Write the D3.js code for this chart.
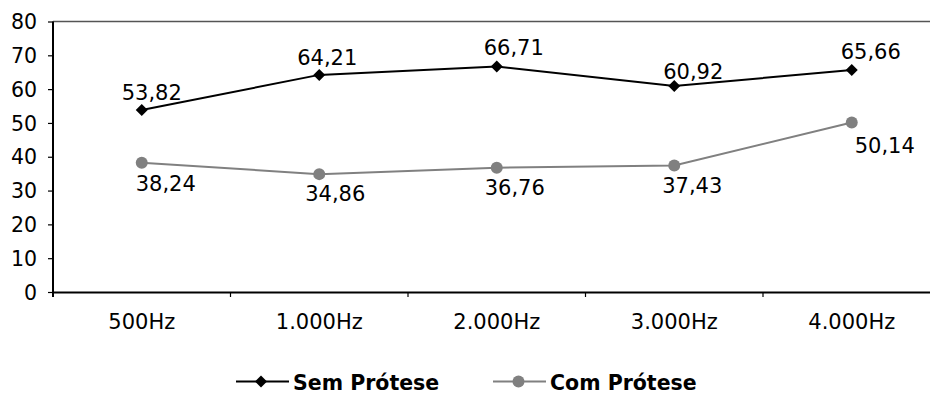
<!DOCTYPE html>
<html>
<head>
<meta charset="utf-8">
<script src="https://cdn.jsdelivr.net/npm/d3@7"></script>
<style>
  html, body { margin: 0; padding: 0; background: #fff; }
  svg { display: block; font-family: "DejaVu Sans", Verdana, sans-serif; }
</style>
</head>
<body>
<svg id="chart" width="930" height="396"></svg>
<script>
// Frequencies on the category axis
const categories = ["500Hz", "1.000Hz", "2.000Hz", "3.000Hz", "4.000Hz"];
// Series values
const semProtese = [53.82, 64.21, 66.71, 60.92, 65.66];
const comProtese = [38.24, 34.86, 36.76, 37.43, 50.14];
// Value axis ticks
const yTicks = [0, 10, 20, 30, 40, 50, 60, 70, 80];
const seriesNames = ["Sem Prótese", "Com Prótese"];

const fmt = v => v.toFixed(2).replace(".", ",");

const svg = d3.select("#chart");
const plot = { left: 53, top: 21.5, bottom: 292, band: 177.5 };

const x = d3.scaleBand()
  .domain(categories)
  .range([plot.left, plot.left + plot.band * categories.length])
  .padding(0);
const cx = c => x(c) + x.bandwidth() / 2;

const y = d3.scaleLinear().domain([0, 80]).range([plot.bottom, plot.top]);

// top border of the plot area
svg.append("line")
  .attr("x1", plot.left).attr("x2", x.range()[1])
  .attr("y1", plot.top).attr("y2", plot.top)
  .attr("stroke", "#555").attr("stroke-width", 1.5);

// value axis
const yAxis = svg.append("g")
  .attr("transform", `translate(${plot.left},0)`)
  .call(d3.axisLeft(y).tickValues(yTicks).tickSize(5).tickSizeOuter(0).tickPadding(11));
yAxis.select(".domain").attr("stroke", "#000").attr("stroke-width", 2)
  .attr("d", `M0,${plot.top}V${plot.bottom + 5}`);
yAxis.selectAll(".tick line").attr("stroke", "#000").attr("stroke-width", 1.2);
yAxis.selectAll(".tick text").attr("font-size", 20.5).attr("fill", "#000")
  .attr("font-family", "DejaVu Sans, Verdana, sans-serif").attr("dy", "0.35em");

// category axis
const xAxis = svg.append("g")
  .attr("transform", `translate(0,${plot.bottom})`)
  .call(d3.axisBottom(x).tickSize(0).tickSizeOuter(0).tickPadding(22.5));
xAxis.select(".domain").attr("stroke", "#000").attr("stroke-width", 2);
xAxis.selectAll(".tick text").attr("font-size", 21).attr("fill", "#000")
  .attr("font-family", "DejaVu Sans, Verdana, sans-serif");
// tick marks between categories
svg.append("g").selectAll("line")
  .data(categories)
  .join("line")
  .attr("x1", d => x(d)).attr("x2", d => x(d))
  .attr("y1", plot.bottom).attr("y2", plot.bottom + 5)
  .attr("stroke", "#000").attr("stroke-width", 1.2);

const line = d3.line().x((d, i) => cx(categories[i])).y(d => y(d));

// Com Prótese series (grey, circles)
svg.append("path").datum(comProtese)
  .attr("d", line).attr("fill", "none")
  .attr("stroke", "#808080").attr("stroke-width", 2);
svg.append("g").selectAll("circle")
  .data(comProtese)
  .join("circle")
  .attr("cx", (d, i) => cx(categories[i])).attr("cy", d => y(d))
  .attr("r", 6).attr("fill", "#808080");

// Sem Prótese series (black, diamonds)
svg.append("path").datum(semProtese)
  .attr("d", line).attr("fill", "none")
  .attr("stroke", "#000").attr("stroke-width", 2);
const diamond = s => `M0,${-s}L${s},0L0,${s}L${-s},0Z`;
svg.append("g").selectAll("path")
  .data(semProtese)
  .join("path")
  .attr("transform", (d, i) => `translate(${cx(categories[i])},${y(d)})`)
  .attr("d", diamond(6)).attr("fill", "#000");

// value labels, nudged off their markers
const semNudge = [[10, -10], [8, -10], [17, -11], [19, -7], [19, -11]];
const comNudge = [[24, 28], [16, 27], [18, 27], [18, 28], [33, 31]];
svg.append("g").selectAll("text")
  .data(semProtese)
  .join("text")
  .attr("x", (d, i) => cx(categories[i]) + semNudge[i][0])
  .attr("y", (d, i) => y(d) + semNudge[i][1])
  .attr("text-anchor", "middle").attr("font-size", 21).attr("fill", "#000")
  .text(fmt);
svg.append("g").selectAll("text")
  .data(comProtese)
  .join("text")
  .attr("x", (d, i) => cx(categories[i]) + comNudge[i][0])
  .attr("y", (d, i) => y(d) + comNudge[i][1])
  .attr("text-anchor", "middle").attr("font-size", 21).attr("fill", "#000")
  .text(fmt);

// legend
const legendItems = [
  { name: seriesNames[0], color: "#000", marker: "diamond", x0: 236 },
  { name: seriesNames[1], color: "#808080", marker: "circle", x0: 493 }
];
const ly = 381.5;
const lg = svg.append("g").selectAll("g").data(legendItems).join("g")
  .attr("transform", d => `translate(${d.x0},${ly})`);
lg.append("line").attr("x1", 0).attr("x2", 53).attr("y1", 0).attr("y2", 0)
  .attr("stroke", d => d.color).attr("stroke-width", 2);
lg.each(function (d) {
  const g = d3.select(this);
  if (d.marker === "diamond") {
    g.append("path").attr("transform", "translate(25,0)").attr("d", diamond(6)).attr("fill", d.color);
  } else {
    g.append("circle").attr("cx", 25.5).attr("cy", 0).attr("r", 6).attr("fill", d.color);
  }
});
lg.append("text").attr("x", 57).attr("y", 8.5)
  .attr("font-size", 20.5).attr("font-weight", "bold").attr("fill", "#000")
  .text(d => d.name);
</script>
</body>
</html>
